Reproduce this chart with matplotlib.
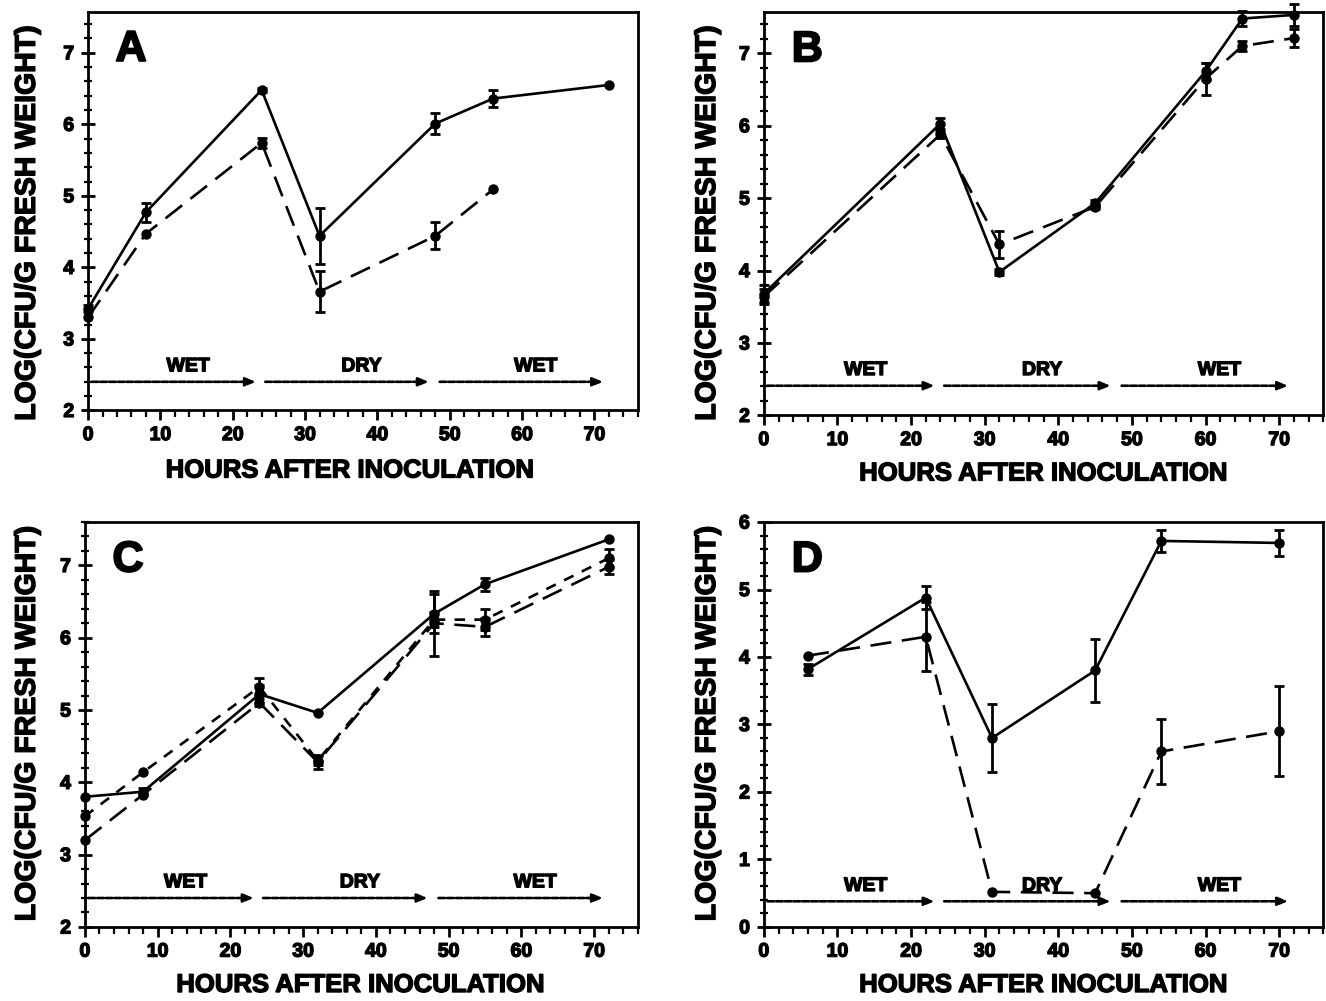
import numpy as np
import matplotlib
matplotlib.use("Agg")
import matplotlib.pyplot as plt
import matplotlib.patheffects as pe
from matplotlib.ticker import MultipleLocator

# ---------------- data ----------------
# Panel A
a_x_solid = [0, 8, 24, 32, 48, 56, 72]
a_y_solid = [3.42, 4.77, 6.48, 4.44, 6.01, 6.36, 6.55]
a_e_solid = [0.05, 0.13, 0.03, 0.39, 0.15, 0.12, 0.0]
a_x_dash = [0, 8, 24, 32, 48, 56]
a_y_dash = [3.30, 4.47, 5.74, 3.66, 4.44, 5.09]
a_e_dash = [0.0, 0.0, 0.07, 0.29, 0.19, 0.0]

# Panel B
b_x_solid = [0, 24, 32, 45, 60, 65, 72]
b_y_solid = [3.68, 6.03, 3.98, 4.93, 6.75, 7.48, 7.53]
b_e_solid = [0.12, 0.08, 0.04, 0.04, 0.12, 0.10, 0.15]
b_x_dash = [0, 24, 32, 45, 60, 65, 72]
b_y_dash = [3.64, 5.88, 4.36, 4.88, 6.65, 7.10, 7.21]
b_e_dash = [0.10, 0.05, 0.19, 0.03, 0.22, 0.07, 0.12]

# Panel C
c_x = [0, 8, 24, 32, 48, 55, 72]
c_y_solid = [3.80, 3.87, 5.22, 4.96, 6.33, 6.74, 7.36]
c_e_solid = [0.0, 0.05, 0.12, 0.0, 0.27, 0.09, 0.0]
c_y_long = [3.20, 3.83, 5.10, 4.28, 6.20, 6.15, 6.98]
c_e_long = [0.0, 0.0, 0.05, 0.10, 0.45, 0.12, 0.10]
c_y_short = [3.53, 4.14, 5.32, 4.30, 6.25, 6.25, 7.10]
c_e_short = [0.0, 0.0, 0.12, 0.06, 0.10, 0.15, 0.12]

# Panel D
d_x = [6, 22, 31, 45, 54, 70]
d_y_solid = [3.82, 4.88, 2.80, 3.80, 5.72, 5.69]
d_e_solid = [0.08, 0.17, 0.50, 0.47, 0.16, 0.19]
d_y_dash = [4.02, 4.30, 0.52, 0.50, 2.60, 2.90]
d_e_dash = [0.0, 0.51, 0.0, 0.0, 0.48, 0.67]

period_labels = ["WET", "DRY", "WET"]
x_ticks = [0, 10, 20, 30, 40, 50, 60, 70]

FONT = "Liberation Sans"
LW = 1.9
MS = 6.5
LONG = (0, (8, 4))
SHORT = (0, (4, 3.5))
THICK = [pe.withStroke(linewidth=1.0, foreground="black")]
THICK2 = [pe.withStroke(linewidth=1.4, foreground="black")]

fig = plt.figure(figsize=(13.26, 10.01), dpi=100)

pos = {
    "A": [0.0664, 0.590, 0.4146, 0.398],
    "B": [0.5760, 0.585, 0.4220, 0.403],
    "C": [0.0640, 0.074, 0.4170, 0.4045],
    "D": [0.5760, 0.074, 0.4220, 0.4045],
}


def series(ax, x, y, e, ls):
    x = np.asarray(x, float)
    y = np.asarray(y, float)
    e = np.asarray(e, float)
    ax.plot(x, y, color="black", lw=LW, ls=ls, marker="o", ms=MS,
            dash_capstyle="butt", zorder=3, clip_on=False)
    m = e > 0
    if m.any():
        ax.errorbar(x[m], y[m], yerr=e[m], fmt="none", ecolor="black",
                    elinewidth=2.0, capsize=3.5, capthick=2.0, zorder=4,
                    clip_on=False)


def style(ax, ylim, letter, yarrow, ytext):
    ax.set_xlim(0, 76)
    ax.set_ylim(*ylim)
    ax.xaxis.set_major_locator(MultipleLocator(10))
    ax.xaxis.set_minor_locator(MultipleLocator(2))
    ax.yaxis.set_major_locator(MultipleLocator(1))
    ax.yaxis.set_minor_locator(MultipleLocator(0.2))
    for s in ax.spines.values():
        s.set_linewidth(2.0)
    ax.tick_params(axis="y", which="major", direction="inout", length=10,
                   width=2.0, labelsize=14, pad=5)
    ax.tick_params(axis="y", which="minor", direction="inout", length=6,
                   width=1.6)
    ax.tick_params(axis="x", which="major", direction="out", length=7,
                   width=2.0, labelsize=14, pad=5)
    ax.tick_params(axis="x", which="minor", direction="out", length=5,
                   width=1.6)
    ax.set_xticks(x_ticks)
    for lab in ax.get_xticklabels() + ax.get_yticklabels():
        lab.set_fontweight("bold")
        lab.set_fontfamily(FONT)
        lab.set_path_effects(THICK)
    ax.text(0.05, 0.905, letter, transform=ax.transAxes, fontsize=31,
            fontweight="heavy", family=FONT, va="center", ha="left",
            path_effects=THICK2)
    # WET / DRY / WET arrows
    segs = [(0.5, 23.2), (24.5, 47.1), (48.6, 71.2)]
    for (x0, x1), lab in zip(segs, period_labels):
        ax.annotate("", xy=(x1, yarrow), xytext=(x0, yarrow),
                    arrowprops=dict(arrowstyle="-|>,head_length=0.6,head_width=0.25",
                                    lw=1.9, ls=(0, (2.5, 0.8)), color="black",
                                    shrinkA=0, shrinkB=0))
        ax.text((x0 + x1) / 2 + 2.0, ytext, lab, ha="center", va="center",
                fontsize=14, fontweight="bold", family=FONT,
                path_effects=THICK)


axA = fig.add_axes(pos["A"])
series(axA, a_x_solid, a_y_solid, a_e_solid, "-")
series(axA, a_x_dash, a_y_dash, a_e_dash, LONG)
style(axA, (2, 7.57), "A", 2.40, 2.61)

axB = fig.add_axes(pos["B"])
series(axB, b_x_solid, b_y_solid, b_e_solid, "-")
series(axB, b_x_dash, b_y_dash, b_e_dash, LONG)
style(axB, (2, 7.57), "B", 2.41, 2.62)

axC = fig.add_axes(pos["C"])
series(axC, c_x, c_y_solid, c_e_solid, "-")
series(axC, c_x, c_y_long, c_e_long, LONG)
series(axC, c_x, c_y_short, c_e_short, SHORT)
style(axC, (2, 7.6), "C", 2.40, 2.61)

axD = fig.add_axes(pos["D"])
series(axD, d_x, d_y_solid, d_e_solid, "-")
series(axD, d_x, d_y_dash, d_e_dash, LONG)
style(axD, (0, 6.0), "D", 0.38, 0.60)

ylab = "LOG(CFU/G FRESH WEIGHT)"
xlab = "HOURS AFTER INOCULATION"
for xx, yy in [(0.021, 0.777), (0.534, 0.777), (0.021, 0.277), (0.534, 0.277)]:
    fig.text(xx, yy, ylab, rotation=90, ha="center", va="center",
             fontsize=20.5, fontweight="bold", family=FONT, path_effects=THICK)
for xx, yy in [(0.264, 0.530), (0.787, 0.527), (0.272, 0.016), (0.787, 0.016)]:
    fig.text(xx, yy, xlab, ha="center", va="center",
             fontsize=18.5, fontweight="bold", family=FONT, path_effects=THICK)

fig.savefig("out.png", dpi=100)
